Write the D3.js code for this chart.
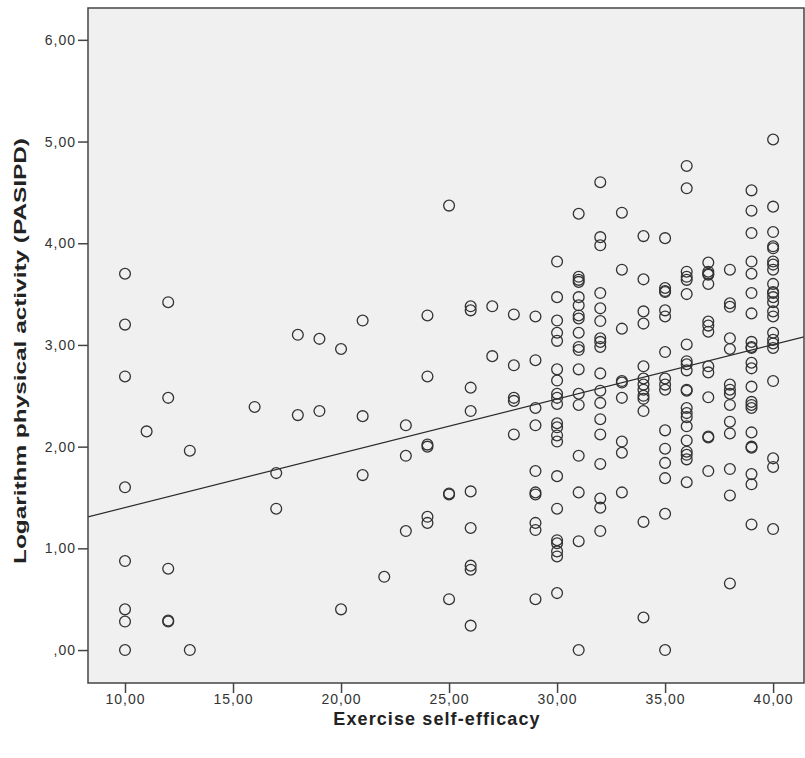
<!DOCTYPE html>
<html>
<head>
<meta charset="utf-8">
<script src="https://cdn.jsdelivr.net/npm/d3@7"></script>
<style>
  body { margin: 0; background: #fff; }
  svg text { font-family: "Liberation Sans", Arial, sans-serif; }
</style>
</head>
<body>
<svg id="chart"></svg>
<script>
// exercise self-efficacy scores (x) and the log PASIPD values seen at each score
const scores = [10, 11, 12, 13, 16, 17, 18, 19, 20, 21, 22, 23, 24, 25, 26, 27, 28, 29,
  30, 31, 32, 33, 34, 35, 36, 37, 38, 39, 40];

const activityByScore = [
  [3.70, 3.20, 2.69, 1.60, 0.875, 0.40, 0.28, 0.00],            // 10
  [2.15],                                                      // 11
  [3.42, 2.48, 0.80, 0.28, 0.29],                              // 12
  [1.96, 0.00],                                                // 13
  [2.39],                                                      // 16
  [1.74, 1.39],                                                // 17
  [3.10, 2.31],                                                // 18
  [3.06, 2.35],                                                // 19
  [2.96, 0.40],                                                // 20
  [3.24, 2.30, 1.72],                                          // 21
  [0.72],                                                      // 22
  [2.21, 1.91, 1.17],                                          // 23
  [3.29, 2.69, 2.02, 2.00, 1.31, 1.25],                        // 24
  [4.37, 1.54, 1.53, 0.50],                                    // 25
  [3.38, 3.34, 2.58, 2.35, 1.56, 1.20, 0.83, 0.79, 0.24],      // 26
  [3.38, 2.89],                                                // 27
  [3.30, 2.80, 2.48, 2.45, 2.12],                              // 28
  [3.28, 2.85, 2.38, 2.21, 1.76, 1.55, 1.53, 1.25, 1.18, 0.50],// 29
  [3.82, 3.47, 3.24, 3.12, 3.04, 2.76, 2.65, 2.52, 2.48, 2.42,
   2.23, 2.19, 2.11, 2.05, 1.71, 1.39, 1.08, 1.05, 0.97, 0.92, 0.56], // 30
  [4.29, 3.67, 3.64, 3.62, 3.47, 3.39, 3.29, 3.26, 3.12, 2.98,
   2.95, 2.76, 2.52, 2.41, 1.91, 1.55, 1.07, 0.00],            // 31
  [4.60, 4.06, 3.98, 3.51, 3.36, 3.235, 3.065, 3.03, 2.98, 2.72,
   2.55, 2.43, 2.27, 2.12, 1.83, 1.49, 1.40, 1.17],            // 32
  [4.30, 3.74, 3.16, 2.645, 2.63, 2.48, 2.05, 1.94, 1.55],     // 33
  [4.07, 3.645, 3.33, 3.21, 2.79, 2.67, 2.61, 2.56, 2.50, 2.47,
   2.35, 1.26, 0.32],                                          // 34
  [4.05, 3.56, 3.53, 3.52, 3.34, 3.28, 2.93, 2.67, 2.61, 2.56,
   2.16, 1.98, 1.84, 1.69, 1.34, 0.00],                        // 35
  [4.76, 4.54, 3.72, 3.67, 3.64, 3.50, 3.005, 2.84, 2.81, 2.75,
   2.56, 2.55, 2.38, 2.33, 2.29, 2.20, 2.06, 1.95, 1.92, 1.875, 1.65], // 36
  [3.81, 3.72, 3.70, 3.69, 3.60, 3.23, 3.19, 3.13, 2.79, 2.73,
   2.485, 2.10, 2.09, 1.76],                                   // 37
  [3.74, 3.41, 3.375, 3.065, 2.96, 2.61, 2.56, 2.52, 2.41, 2.245,
   2.13, 1.78, 1.52, 0.655],                                   // 38
  [4.52, 4.32, 4.10, 3.82, 3.70, 3.51, 3.31, 3.03, 2.98, 2.97,
   2.825, 2.77, 2.59, 2.44, 2.41, 2.38, 2.14, 2.00, 1.99, 1.73,
   1.63, 1.235],                                               // 39
  [5.02, 4.36, 4.11, 3.97, 3.95, 3.82, 3.79, 3.74, 3.60, 3.52,
   3.51, 3.47, 3.42, 3.33, 3.28, 3.12, 3.05, 3.015, 2.97, 2.645,
   1.885, 1.80, 1.19]                                          // 40
];

const xTicks = [10, 15, 20, 25, 30, 35, 40];
const yTicks = [0, 1, 2, 3, 4, 5, 6];

// linear fit line: y = a + b*x
const fitIntercept = 0.867;
const fitSlope = 0.0534;

const W = 805, H = 758;
const plot = { left: 88, top: 8, right: 804, bottom: 683 };

const points = [];
scores.forEach((s, i) => activityByScore[i].forEach(v => points.push({ x: s, y: v })));

const svg = d3.select('#chart').attr('width', W).attr('height', H);

const x = d3.scaleLinear().domain([8.287, 41.43]).range([plot.left, plot.right]);
const y = d3.scaleLinear().domain([-0.324, 6.313]).range([plot.bottom, plot.top]);

// plot background
svg.append('rect')
  .attr('x', plot.left).attr('y', plot.top)
  .attr('width', plot.right - plot.left).attr('height', plot.bottom - plot.top)
  .attr('fill', '#f0f0f0');

// fit line, clipped to plot area
svg.append('clipPath').attr('id', 'clip')
  .append('rect')
  .attr('x', plot.left).attr('y', plot.top)
  .attr('width', plot.right - plot.left).attr('height', plot.bottom - plot.top);

const xd = x.domain();
svg.append('line')
  .attr('clip-path', 'url(#clip)')
  .attr('x1', x(xd[0])).attr('y1', y(fitIntercept + fitSlope * xd[0]))
  .attr('x2', x(xd[1])).attr('y2', y(fitIntercept + fitSlope * xd[1]))
  .attr('stroke', '#2b2b2b').attr('stroke-width', 1.2);

// points
svg.append('g').selectAll('circle')
  .data(points)
  .enter()
  .append('circle')
  .attr('cx', d => x(d.x))
  .attr('cy', d => y(d.y))
  .attr('r', 5.4)
  .attr('fill', 'none')
  .attr('stroke', '#333')
  .attr('stroke-width', 1.3);

// axes
const fmt = v => (v === 0 ? ',00' : d3.format('.2f')(v).replace('.', ','));

const xAxis = svg.append('g')
  .attr('transform', 'translate(0,' + plot.bottom + ')')
  .call(d3.axisBottom(x).tickValues(xTicks).tickSize(10).tickPadding(1).tickSizeOuter(0)
    .tickFormat(v => d3.format('.2f')(v).replace('.', ',')));

const yAxis = svg.append('g')
  .attr('transform', 'translate(' + plot.left + ',0)')
  .call(d3.axisLeft(y).tickValues(yTicks).tickSize(10).tickPadding(2).tickSizeOuter(0).tickFormat(fmt));

[xAxis, yAxis].forEach(g => {
  g.select('.domain').remove();
  g.selectAll('line').attr('stroke', '#444').attr('stroke-width', 1.5);
  g.selectAll('text').attr('fill', '#333')
    .style('font-size', '14px').style('letter-spacing', '1px');
});

// frame
svg.append('rect')
  .attr('x', plot.left).attr('y', plot.top)
  .attr('width', plot.right - plot.left).attr('height', plot.bottom - plot.top)
  .attr('fill', 'none')
  .attr('stroke', '#444').attr('stroke-width', 1.5);

// axis titles
svg.append('text')
  .attr('x', 437)
  .attr('y', 725)
  .attr('text-anchor', 'middle')
  .style('font-size', '18px').style('font-weight', 'bold')
  .style('letter-spacing', '1.1px')
  .attr('fill', '#222')
  .text('Exercise self-efficacy');

svg.append('text')
  .attr('transform', 'translate(26,351) rotate(-90)')
  .attr('text-anchor', 'middle')
  .attr('textLength', 426)
  .attr('lengthAdjust', 'spacingAndGlyphs')
  .style('font-size', '17px').style('font-weight', 'bold')
  .attr('fill', '#222')
  .text('Logarithm physical activity (PASIPD)');
</script>
</body>
</html>
